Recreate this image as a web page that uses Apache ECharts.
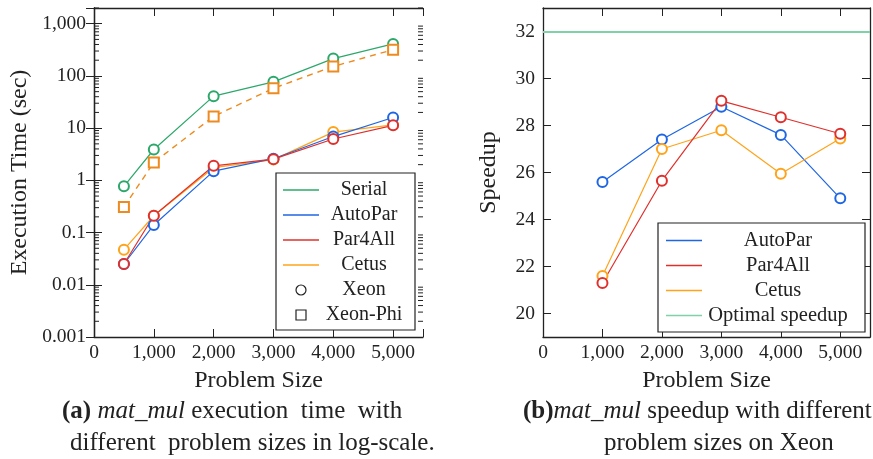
<!DOCTYPE html>
<html>
<head>
<meta charset="utf-8">
<script src="https://cdn.jsdelivr.net/npm/echarts@6/dist/echarts.min.js"></script>
<style>
  html, body { margin: 0; padding: 0; background: #fff; }
  #chart { width: 873px; height: 459px; }
</style>
</head>
<body>
<div id="chart"></div>
<script>
// problem sizes (x)
const problemSizes = [500, 1000, 2000, 3000, 4000, 5000];
// execution time (sec), log scale
const serialXeon = [0.77, 3.9, 41, 77, 215, 410];
const serialPhi = [0.31, 2.2, 16.8, 58, 152, 318];
const autoParXeon = [0.025, 0.14, 1.5, 2.6, 6.9, 16];
const par4AllXeon = [0.025, 0.21, 1.9, 2.55, 6.2, 11.3];
const cetusXeon = [0.047, 0.21, 1.75, 2.5, 8.4, 11.6];

// speedup on Xeon
const speedupSizes = [1000, 2000, 3000, 4000, 5000];
const autoParSpeedup = [25.6, 27.4, 28.8, 27.6, 24.9];
const par4AllSpeedup = [21.3, 25.65, 29.05, 28.35, 27.65];
const cetusSpeedup = [21.6, 27.0, 27.8, 25.95, 27.45];
const optimalSpeedup = 32;

// tick labels of the log axis
const logTickLabels = ['0.001', '0.01', '0.1', '1', '10', '100', '1,000'];
// minor tick multipliers of the log axis
const minorMult = [2, 3, 4, 5, 6, 7, 8, 9];
const decades = [0.001, 0.01, 0.1, 1, 10, 100, 1000];

const FONT = "'Liberation Serif', 'DejaVu Serif', serif";
const INK = '#222';
const C = {serial: '#2ca86a', auto: '#1f66e5', p4a: '#e0302c', cetus: '#ffa31a', phi: '#ee8a1e', opt: '#80d0a8'};

const pair = (xs, ys) => xs.map((x, i) => [x, ys[i]]);

let minorTicks = [];
for (const d of decades) {
  for (const m of minorMult) {
    if (d * m <= 2000) minorTicks.push([0, d * m]);
  }
}

const chart = echarts.init(document.getElementById('chart'));

const xFmt = v => (v > 5000 ? '' : v.toLocaleString('en-US'));
const logFmt = v => {
  const l = Math.log10(v);
  const e = Math.round(l);
  if (Math.abs(l - e) > 1e-6) return '';
  return logTickLabels[e + 3] || '';
};

function xAx(grid, pos, show) {
  return {
    type: 'value', gridIndex: grid, position: pos, min: 0, max: 5500, interval: 1000,
    name: show ? 'Problem Size' : '', nameLocation: 'middle', nameGap: 32,
    nameTextStyle: {fontFamily: FONT, fontSize: 24, color: INK},
    axisLine: {show: true, onZero: false, lineStyle: {color: INK, width: 1.3}},
    axisTick: {show: true, inside: true, length: 8, lineStyle: {color: INK}},
    axisLabel: {show: show, formatter: xFmt, margin: 6, fontFamily: FONT, fontSize: 19.5, color: INK},
    splitLine: {show: false}
  };
}

function lineSeries(name, data, color, xi, yi, opt) {
  return Object.assign({
    name: name, type: 'line', xAxisIndex: xi, yAxisIndex: yi, data: data,
    symbol: 'emptyCircle', symbolSize: 10, color: color,
    lineStyle: {width: 1.2, color: color},
    itemStyle: {color: color, borderWidth: 1.2},
    emphasis: {disabled: true}, z: 4
  }, opt || {});
}

const lineIcon = 'path://M0,0L36,0L36,1.4L0,1.4Z';
const squareIcon = 'path://M0,0L10,0L10,10L0,10Z';

const legendBase = {
  orient: 'vertical', itemWidth: 36, itemHeight: 10, itemGap: 5, itemTextGap: 5,
  borderColor: INK, borderWidth: 1.2, backgroundColor: '#fff', borderRadius: 0,
  selectedMode: false, symbolKeepAspect: true
};

const capRich = {
  b: {fontFamily: FONT, fontSize: 25, fontWeight: 'bold', fill: INK},
  i: {fontFamily: FONT, fontSize: 25, fontStyle: 'italic', fill: INK}
};

const option = {
  animation: false,
  backgroundColor: '#fff',
  grid: [
    {left: 94, right: 450, top: 8, bottom: 122},
    {left: 543, right: 1, top: 8, bottom: 122}
  ],
  legend: [
    Object.assign({}, legendBase, {
      left: 276, top: 173, padding: [7, 11, 5, 7],
      formatter: n => '{t|' + n + '}',
      textStyle: {rich: {t: {width: 80, align: 'center', fontFamily: FONT, fontSize: 20, lineHeight: 20, color: INK}}},
      data: [
        {name: 'Serial', icon: lineIcon, itemStyle: {color: C.serial}},
        {name: 'AutoPar', icon: lineIcon, itemStyle: {color: C.auto}},
        {name: 'Par4All', icon: lineIcon, itemStyle: {color: C.p4a}},
        {name: 'Cetus', icon: lineIcon, itemStyle: {color: C.cetus}},
        {name: 'Xeon', icon: 'circle', itemStyle: {color: '#fff', borderColor: INK, borderWidth: 1.2}},
        {name: 'Xeon-Phi', icon: squareIcon, itemStyle: {color: '#fff', borderColor: INK, borderWidth: 1.2}}
      ]
    }),
    Object.assign({}, legendBase, {
      left: 658, top: 223, padding: [7, 16, 6, 8], itemGap: 4,
      formatter: n => '{t|' + n + '}',
      textStyle: {rich: {t: {width: 142, align: 'center', fontFamily: FONT, fontSize: 20.5, lineHeight: 20, color: INK}}},
      data: [
        {name: 'AutoPar', icon: lineIcon, itemStyle: {color: C.auto}},
        {name: 'Par4All', icon: lineIcon, itemStyle: {color: C.p4a}},
        {name: 'Cetus', icon: lineIcon, itemStyle: {color: C.cetus}},
        {name: 'Optimal speedup', icon: lineIcon, itemStyle: {color: C.opt}}
      ]
    })
  ],
  xAxis: [xAx(0, 'bottom', true), xAx(0, 'top', false), xAx(1, 'bottom', true), xAx(1, 'top', false)],
  yAxis: [
    {
      type: 'log', logBase: 10, gridIndex: 0, min: 0.001, max: 2000, position: 'left',
      name: 'Execution Time (sec)', nameLocation: 'middle', nameGap: 62,
      nameTextStyle: {fontFamily: FONT, fontSize: 24, color: INK},
      axisLine: {show: true, lineStyle: {color: INK, width: 1.3}},
      axisTick: {show: true, inside: true, length: 8, lineStyle: {color: INK}},
      axisLabel: {formatter: logFmt, margin: 8, fontFamily: FONT, fontSize: 19.5, color: INK, showMaxLabel: false},
      splitLine: {show: false}
    },
    {
      type: 'log', logBase: 10, gridIndex: 0, min: 0.001, max: 2000, position: 'right',
      axisLine: {show: true, lineStyle: {color: INK, width: 1.3}},
      axisTick: {show: true, inside: true, length: 8, lineStyle: {color: INK}},
      axisLabel: {show: false}, splitLine: {show: false}
    },
    {
      type: 'value', gridIndex: 1, min: 19, max: 33, splitNumber: 7, position: 'left',
      name: 'Speedup', nameLocation: 'middle', nameGap: 42,
      nameTextStyle: {fontFamily: FONT, fontSize: 24, color: INK},
      axisLine: {show: true, onZero: false, lineStyle: {color: INK, width: 1.3}},
      axisTick: {show: true, inside: true, length: 8, lineStyle: {color: INK}},
      axisLabel: {formatter: v => (v % 2 === 0 ? String(v) : ''), margin: 8, fontFamily: FONT, fontSize: 19.5, color: INK},
      splitLine: {show: false}
    },
    {
      type: 'value', gridIndex: 1, min: 19, max: 33, splitNumber: 7, position: 'right',
      axisLine: {show: true, onZero: false, lineStyle: {color: INK, width: 1.3}},
      axisTick: {show: true, inside: true, length: 8, lineStyle: {color: INK}},
      axisLabel: {show: false}, splitLine: {show: false}
    }
  ],
  series: [
    // minor ticks of the log axis (left and right edges)
    {
      type: 'custom', xAxisIndex: 0, yAxisIndex: 0, data: minorTicks, silent: true, clip: false, z: 5,
      renderItem: function (params, api) {
        const v = api.value(1);
        const pl = api.coord([0, v]);
        const pr = api.coord([5500, v]);
        const st = {stroke: INK, lineWidth: 1};
        return {type: 'group', children: [
          {type: 'line', shape: {x1: pl[0], y1: pl[1], x2: pl[0] + 5, y2: pl[1]}, style: st},
          {type: 'line', shape: {x1: pr[0], y1: pr[1], x2: pr[0] - 5, y2: pr[1]}, style: st}
        ]};
      }
    },
    lineSeries('Serial', pair(problemSizes, serialXeon), C.serial, 0, 0),
    lineSeries('Serial Xeon-Phi', pair(problemSizes, serialPhi), C.phi, 0, 0,
      {symbol: 'emptyRect', symbolSize: 10, lineStyle: {width: 1.4, color: C.phi, type: [6, 5]}}),
    lineSeries('Cetus', pair(problemSizes, cetusXeon), C.cetus, 0, 0),
    lineSeries('AutoPar', pair(problemSizes, autoParXeon), C.auto, 0, 0),
    lineSeries('Par4All', pair(problemSizes, par4AllXeon), C.p4a, 0, 0),
    {name: 'Xeon', type: 'line', xAxisIndex: 0, yAxisIndex: 0, data: [], color: INK},
    {name: 'Xeon-Phi', type: 'line', xAxisIndex: 0, yAxisIndex: 0, data: [], color: INK},

    lineSeries('AutoPar', pair(speedupSizes, autoParSpeedup), C.auto, 2, 2),
    lineSeries('Cetus', pair(speedupSizes, cetusSpeedup), C.cetus, 2, 2),
    lineSeries('Par4All', pair(speedupSizes, par4AllSpeedup), C.p4a, 2, 2),
    {
      name: 'Optimal speedup', type: 'line', xAxisIndex: 2, yAxisIndex: 2, data: [], color: C.opt,
      markLine: {
        silent: true, symbol: 'none', label: {show: false},
        lineStyle: {color: C.opt, width: 2.2, type: 'solid'},
        data: [{yAxis: optimalSpeedup}]
      }
    }
  ],
  graphic: [
    {type: 'text', left: 62, top: 399, style: {
      text: '{b|(a)} {i|mat_mul} execution  time  with', rich: capRich,
      fontFamily: FONT, fontSize: 25, fill: INK}},
    {type: 'text', left: 70, top: 431, style: {
      text: 'different  problem sizes in log-scale.', fontFamily: FONT, fontSize: 25, fill: INK}},
    {type: 'text', left: 523, top: 399, style: {
      text: '{b|(b)}{i|mat_mul} speedup with different', rich: capRich,
      fontFamily: FONT, fontSize: 25, fill: INK}},
    {type: 'text', left: 604, top: 431, style: {
      text: 'problem sizes on Xeon', fontFamily: FONT, fontSize: 25, fill: INK}}
  ]
};

chart.setOption(option);
</script>
</body>
</html>
